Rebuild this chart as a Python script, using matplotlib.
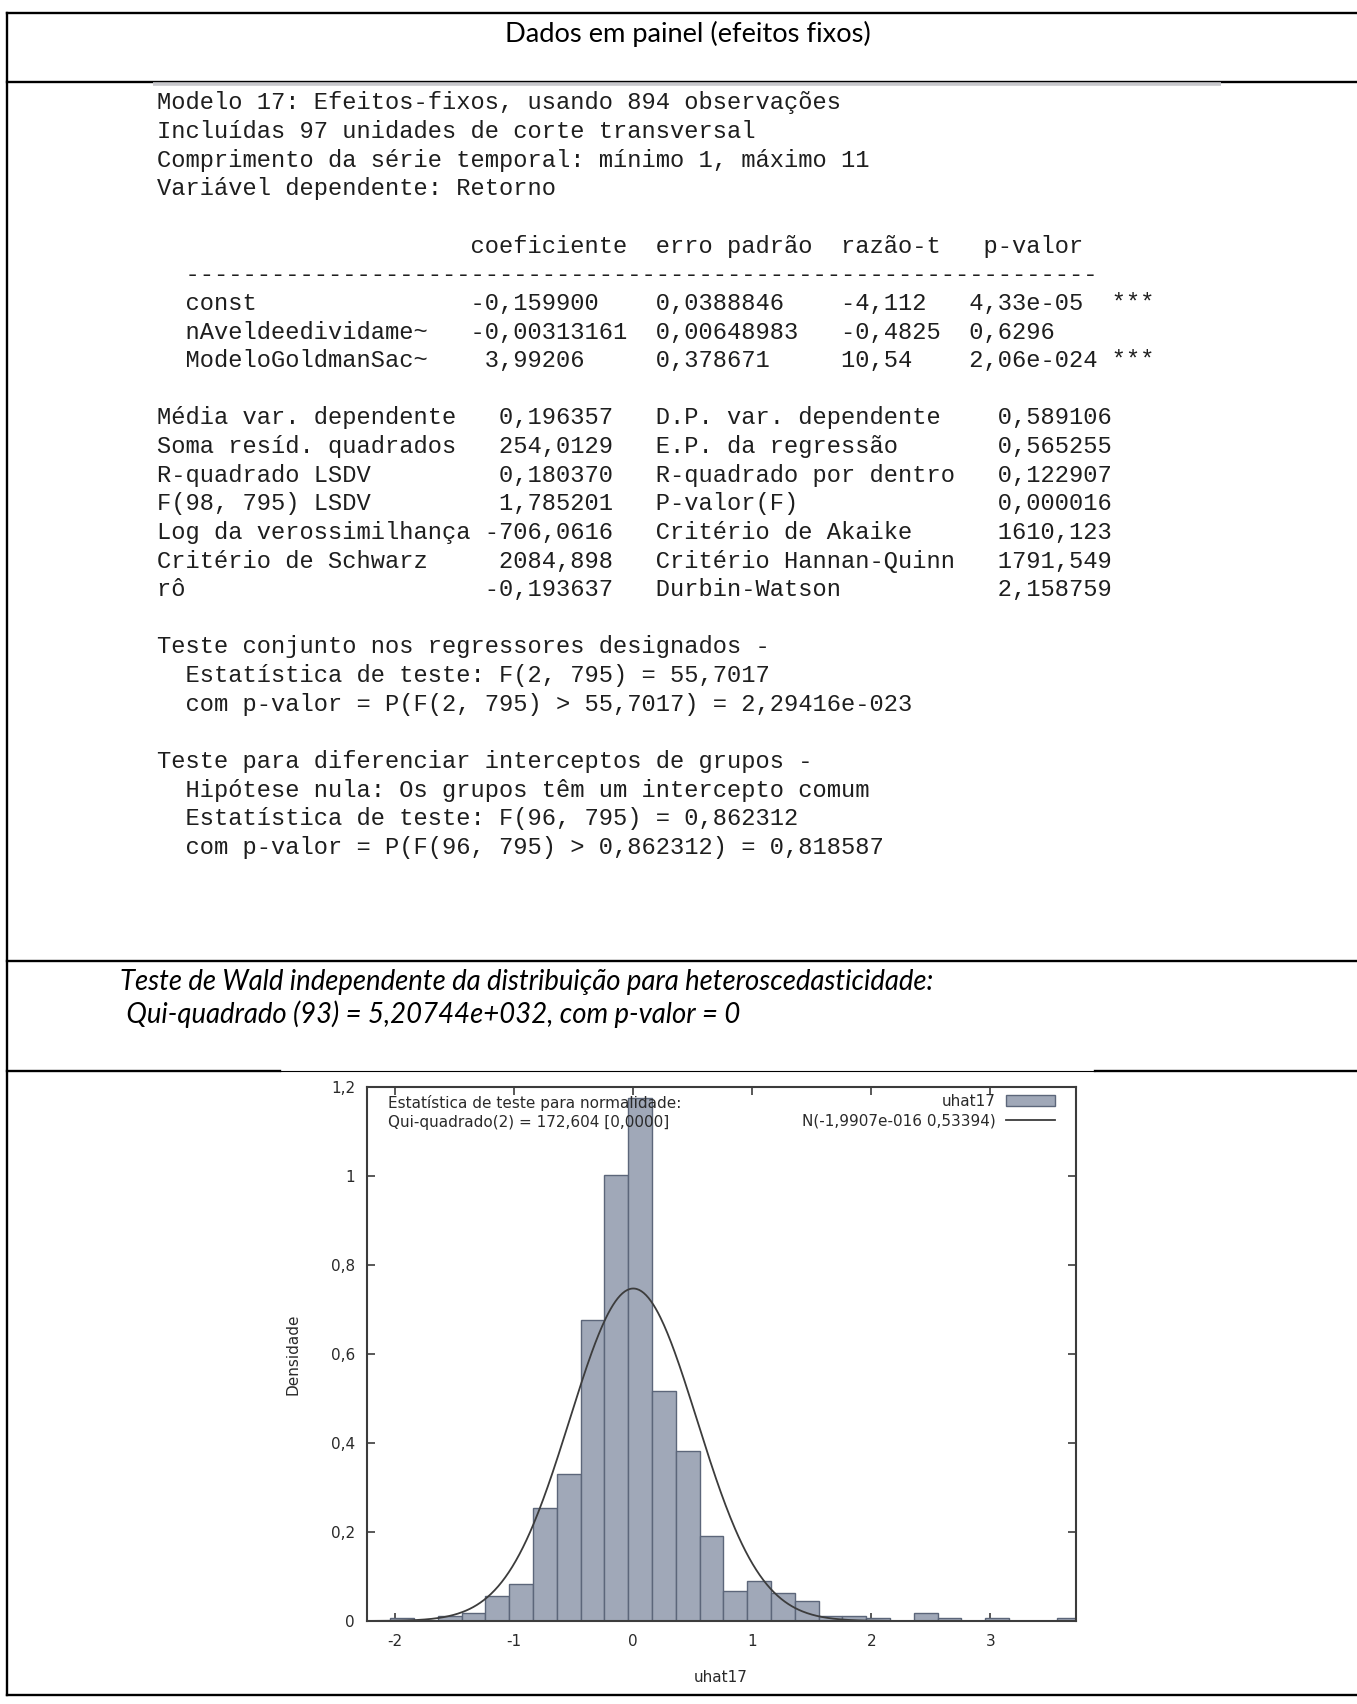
import numpy as np
import matplotlib.pyplot as plt
from matplotlib.patches import Patch
from matplotlib.lines import Line2D

W, H = 1357, 1704

titulo = 'Dados em painel (efeitos fixos)'

cabecalho = ['Modelo 17: Efeitos-fixos, usando 894 observações',
             'Incluídas 97 unidades de corte transversal',
             'Comprimento da série temporal: mínimo 1, máximo 11',
             'Variável dependente: Retorno']

colunas = 'coeficiente  erro padrão  razão-t   p-valor'
variaveis = ['const', 'nAveldeedividame~', 'ModeloGoldmanSac~']
coef = ['-0,159900', '-0,00313161', '3,99206']
erro = ['0,0388846', '0,00648983', '0,378671']
razao_t = ['-4,112', '-0,4825', '10,54']
p_valor = ['4,33e-05', '0,6296', '2,06e-024']
signif = ['***', '', '***']

stats_esq = ['Média var. dependente', 'Soma resíd. quadrados', 'R-quadrado LSDV',
             'F(98, 795) LSDV', 'Log da verossimilhança', 'Critério de Schwarz', 'rô']
vals_esq = ['0,196357', '254,0129', '0,180370', '1,785201', '-706,0616', '2084,898', '-0,193637']
stats_dir = ['D.P. var. dependente', 'E.P. da regressão', 'R-quadrado por dentro',
             'P-valor(F)', 'Critério de Akaike', 'Critério Hannan-Quinn', 'Durbin-Watson']
vals_dir = ['0,589106', '0,565255', '0,122907', '0,000016', '1610,123', '1791,549', '2,158759']

teste_conjunto = ['Teste conjunto nos regressores designados -',
                  '  Estatística de teste: F(2, 795) = 55,7017',
                  '  com p-valor = P(F(2, 795) > 55,7017) = 2,29416e-023']
teste_grupos = ['Teste para diferenciar interceptos de grupos -',
                '  Hipótese nula: Os grupos têm um intercepto comum',
                '  Estatística de teste: F(96, 795) = 0,862312',
                '  com p-valor = P(F(96, 795) > 0,862312) = 0,818587']

wald = ['Teste de Wald independente da distribuição para heteroscedasticidade:',
        ' Qui-quadrado (93) = 5,20744e+032, com p-valor = 0']

# histograma dos residuos (densidade), barras de largura 0.2
centros = [-1.943, -1.743, -1.543, -1.343, -1.143, -0.943, -0.743, -0.543, -0.343, -0.143,
           0.057, 0.257, 0.457, 0.657, 0.857, 1.057, 1.257, 1.457, 1.657, 1.857,
           2.057, 2.257, 2.457, 2.657, 2.857, 3.057, 3.257, 3.457, 3.657]
densidade = [0.006, 0.0, 0.011, 0.017, 0.056, 0.084, 0.253, 0.331, 0.676, 1.003,
             1.176, 0.517, 0.383, 0.192, 0.067, 0.091, 0.062, 0.045, 0.012, 0.012,
             0.006, 0.0, 0.017, 0.006, 0.0, 0.006, 0.0, 0.0, 0.006]
largura = 0.2
mu, sigma = -1.9907e-16, 0.53394
xticks = [-2, -1, 0, 1, 2, 3]
yticks = [0, 0.2, 0.4, 0.6, 0.8, 1.0, 1.2]
ytick_labels = ['0', '0,2', '0,4', '0,6', '0,8', '1', '1,2']


def linha(partes):
    s = ''
    for col, t in partes:
        s = s.ljust(col) + t
    return s


linhas = list(cabecalho) + ['', ' ' * 22 + colunas, '  ' + '-' * 64]
for i in range(3):
    linhas.append(linha([(2, variaveis[i]),
                         (24 - coef[i].index(','), coef[i]),
                         (36 - erro[i].index(','), erro[i]),
                         (50 - razao_t[i].index(','), razao_t[i]),
                         (58 - p_valor[i].index(','), p_valor[i]),
                         (67, signif[i])]))
linhas.append('')
for i in range(7):
    linhas.append(linha([(0, stats_esq[i]), (32 - len(vals_esq[i]), vals_esq[i]),
                         (35, stats_dir[i]), (67 - len(vals_dir[i]), vals_dir[i])]))
linhas += [''] + teste_conjunto + [''] + teste_grupos

fig = plt.figure(figsize=(W / 100, H / 100), dpi=100)
bg = fig.add_axes([0, 0, 1, 1])
bg.set_xlim(0, W)
bg.set_ylim(H, 0)
bg.axis('off')

# bordas da tabela
lw = 1.7
bg.plot([7, W], [12.7, 12.7], color='black', lw=lw)
bg.plot([7.3, 7.3], [12.7, 1695], color='black', lw=lw)
bg.plot([7, W], [81.5, 81.5], color='black', lw=lw)
bg.plot([152.7, 1220.7], [83.5, 83.5], color='#c8c8cc', lw=2.6, solid_capstyle='butt')
bg.plot([7, W], [961, 961], color='black', lw=lw)
bg.plot([7, 280], [1071, 1071], color='black', lw=lw)
bg.plot([280, 1095], [1070.5, 1070.5], color='black', lw=0.8)
bg.plot([1095, W], [1071, 1071], color='black', lw=lw)
bg.plot([7, W], [1695, 1695], color='black', lw=lw)

bg.text(687.5, 34, titulo, family='Lato', fontsize=19.6, ha='center', va='center', color='black')

for r, t in enumerate(linhas):
    if t:
        bg.text(157, 103 + 28.63 * r, t, family='Liberation Mono', fontsize=17.15,
                ha='left', va='center', color='#1e1e1e')

bg.text(120, 982, wald[0], family='Lato', style='italic', fontsize=19.8, ha='left', va='center')
bg.text(120, 1014, wald[1], family='Lato', style='italic', fontsize=19.8, ha='left', va='center')

# grafico
cinza = '#3c3c3c'
ax = fig.add_axes([366.7 / W, 1 - 1621 / H, (1076 - 366.7) / W, (1621 - 1087) / H])
ax.bar(centros, densidade, width=largura, color='#a0a8b8', edgecolor='#5c667a', linewidth=1.0, zorder=2)
xmin, xmax = -2.24, 3.72
xs = np.linspace(xmin, xmax, 600)
ax.plot(xs, np.exp(-0.5 * ((xs - mu) / sigma) ** 2) / (sigma * np.sqrt(2 * np.pi)),
        color=cinza, lw=1.3, zorder=3)
ax.set_xlim(xmin, xmax)
ax.set_ylim(0, 1.2)
ax.set_xticks(xticks)
ax.set_xticklabels([str(v) for v in xticks])
ax.set_yticks(yticks)
ax.set_yticklabels(ytick_labels)
ax.tick_params(direction='in', top=True, right=True, length=6, width=1.2, color=cinza,
               labelsize=11, labelcolor='#2a2a2a')
ax.tick_params(axis='x', pad=9.4)
ax.tick_params(axis='y', pad=8.4)
for s in ax.spines.values():
    s.set_color(cinza)
    s.set_linewidth(1.5)

ax.text(0.0305, 0.985, 'Estatística de teste para normalidade:\nQui-quadrado(2) = 172,604 [0,0000]',
        transform=ax.transAxes, ha='left', va='top', fontsize=11, color='#2a2a2a',
        linespacing=1.3, zorder=5)

handles = [Patch(facecolor='#a0a8b8', edgecolor='#5c667a', linewidth=1.0),
           Line2D([0], [0], color=cinza, lw=1.3)]
leg = ax.legend(handles, ['uhat17', 'N(-1,9907e-016 0,53394)'], loc='upper right',
                bbox_to_anchor=(0.9704, 0.987), markerfirst=False, frameon=False,
                fontsize=11, handlelength=3.2, handletextpad=0.7, borderpad=0,
                borderaxespad=0, labelspacing=0.3, labelcolor='#2a2a2a')
leg.set_zorder(5)

bg.text(293, 1354, 'Densidade', rotation=90, ha='center', va='center', fontsize=11, color='#2a2a2a')
bg.text(721, 1677, 'uhat17', ha='center', va='center', fontsize=11, color='#2a2a2a')

fig.savefig('out.png', dpi=100)
